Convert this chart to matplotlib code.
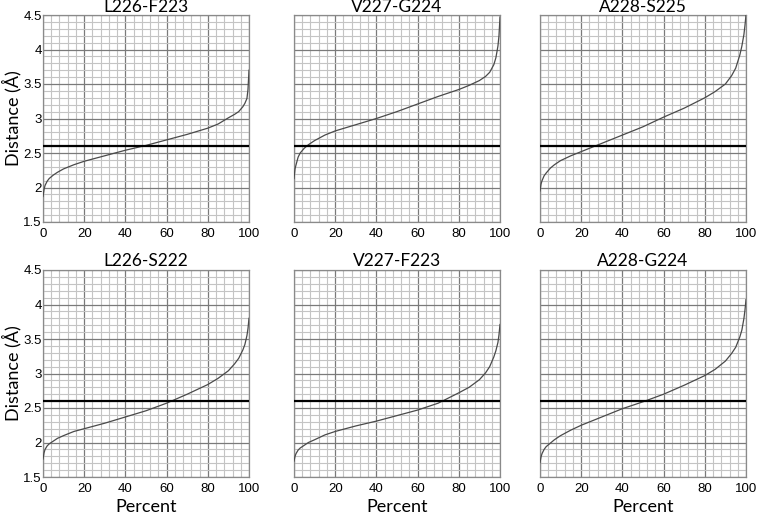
import matplotlib.pyplot as plt
from matplotlib.ticker import MultipleLocator

# percent positions
pct = [0, 0.5, 1, 2, 3, 5, 7, 10, 15, 20, 30, 40, 50, 60, 70, 80, 85, 90, 93, 95, 97, 98, 99, 99.5, 100]

titles = ["L226-F223", "V227-G224", "A228-S225",
          "L226-S222", "V227-F223", "A228-G224"]

l226_f223 = [1.87, 1.97, 2.03, 2.09, 2.13, 2.18, 2.22, 2.27, 2.33, 2.38, 2.46, 2.54, 2.61, 2.69, 2.77,
             2.86, 2.92, 3.01, 3.06, 3.10, 3.17, 3.22, 3.29, 3.42, 3.70]
v227_g224 = [2.13, 2.27, 2.33, 2.44, 2.50, 2.57, 2.62, 2.68, 2.76, 2.82, 2.91, 3.00, 3.10, 3.21, 3.32,
             3.42, 3.48, 3.55, 3.61, 3.67, 3.78, 3.88, 4.05, 4.20, 4.47]
a228_s225 = [1.95, 2.05, 2.10, 2.17, 2.21, 2.28, 2.33, 2.39, 2.46, 2.52, 2.64, 2.76, 2.88, 3.02, 3.15,
             3.30, 3.39, 3.50, 3.62, 3.73, 3.92, 4.05, 4.22, 4.35, 4.50]
l226_s222 = [1.76, 1.85, 1.90, 1.95, 1.98, 2.02, 2.06, 2.10, 2.16, 2.20, 2.28, 2.37, 2.46, 2.57, 2.70,
             2.84, 2.93, 3.04, 3.14, 3.22, 3.34, 3.42, 3.55, 3.65, 3.80]
v227_f223 = [1.73, 1.80, 1.84, 1.89, 1.92, 1.96, 2.00, 2.04, 2.11, 2.16, 2.24, 2.31, 2.39, 2.47, 2.57,
             2.72, 2.80, 2.91, 3.01, 3.10, 3.24, 3.33, 3.45, 3.56, 3.71]
a228_g224 = [1.71, 1.79, 1.84, 1.90, 1.94, 1.99, 2.04, 2.10, 2.18, 2.25, 2.37, 2.49, 2.59, 2.70, 2.83,
             2.97, 3.06, 3.18, 3.29, 3.38, 3.53, 3.63, 3.80, 3.92, 4.07]

series = [l226_f223, v227_g224, a228_s225, l226_s222, v227_f223, a228_g224]
cutoff = 2.6

W, H = 758, 519
fig = plt.figure(figsize=(W / 100, H / 100), dpi=100)

lefts = [43, 294, 540]
tops = [15, 270]
aw, ah = 206, 207

label_font = "Lato"
tick_font = "Liberation Sans"

for i, (name, vals) in enumerate(zip(titles, series)):
    r, c = divmod(i, 3)
    ax = fig.add_axes([lefts[c] / W, 1 - (tops[r] + ah) / H, aw / W, ah / H])
    ax.set_xlim(0, 100)
    ax.set_ylim(1.5, 4.5)

    ax.xaxis.set_major_locator(MultipleLocator(20))
    ax.xaxis.set_minor_locator(MultipleLocator(4))
    ax.yaxis.set_major_locator(MultipleLocator(0.5))
    ax.yaxis.set_minor_locator(MultipleLocator(0.1))
    ax.grid(which="minor", color="#c4c4c4", lw=0.8)
    ax.grid(which="major", color="#7a7a7a", lw=0.9)
    ax.set_axisbelow(True)
    for s in ax.spines.values():
        s.set_color("#8a8a8a")
        s.set_linewidth(0.9)

    ax.plot(pct, vals, color="#4a4a4a", lw=0.9, zorder=3)
    ax.axhline(cutoff, color="black", lw=1.6, zorder=4)

    ax.tick_params(which="both", length=0)
    ax.tick_params(axis="x", pad=4)
    ax.tick_params(axis="y", pad=1)
    ax.set_xticks([0, 20, 40, 60, 80, 100])
    ax.set_xticklabels(["0", "20", "40", "60", "80", "100"], fontsize=9.5, family=tick_font)
    if c == 0:
        ax.set_yticks([1.5, 2, 2.5, 3, 3.5, 4, 4.5])
        ax.set_yticklabels(["1.5", "2", "2.5", "3", "3.5", "4", "4.5"], fontsize=9.5, family=tick_font)
        ax.set_ylabel("Distance (Å)", fontsize=13, family=label_font, labelpad=1)
    else:
        ax.set_yticklabels([])
    if r == 1:
        ax.set_xlabel("Percent", fontsize=13, family=label_font, labelpad=3)

    ax.set_title(name, fontsize=12.5, family=label_font, pad=0 if r == 0 else 3)

fig.savefig("out.png", dpi=100)
